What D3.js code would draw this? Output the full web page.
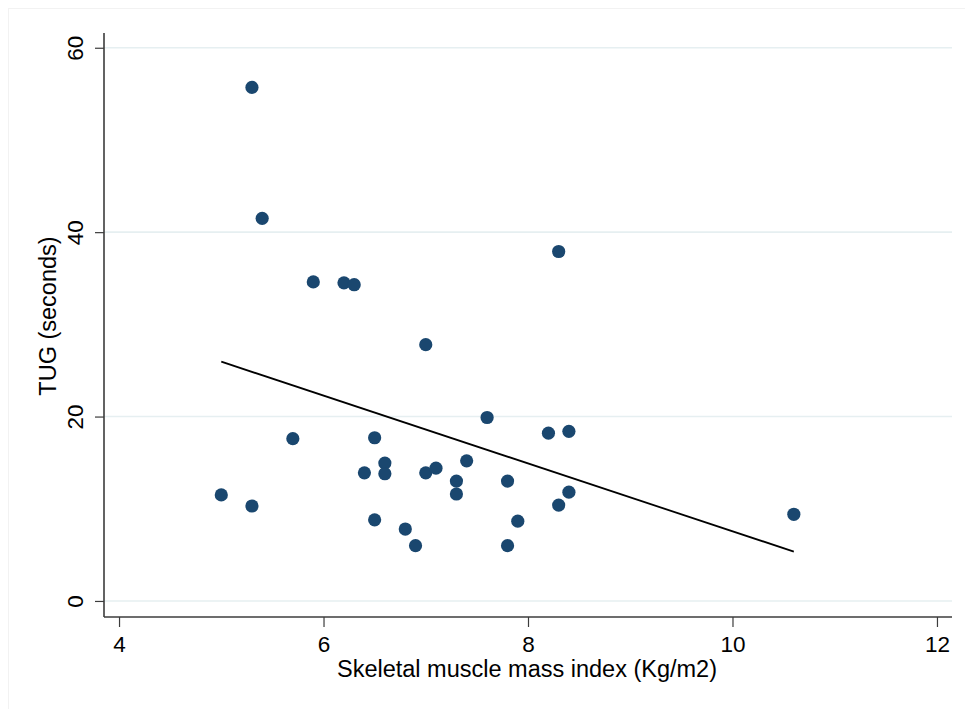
<!DOCTYPE html>
<html>
<head>
<meta charset="utf-8">
<script src="https://cdn.jsdelivr.net/npm/d3@7"></script>
<style>
    body { margin: 0; background: #fff; }
    svg text { font-family: "Liberation Sans", Arial, Helvetica, sans-serif; fill: #000; }
</style>
</head>
<body>
<div id="chart"></div>
<script>
// skeletal muscle mass index (x) vs TUG seconds (y)
const smmi = [5.3, 5.4, 5.9, 6.2, 6.3, 8.3, 7.0, 7.6, 8.2, 8.4, 5.7, 6.5, 6.6, 6.4, 6.6, 7.0,
              7.1, 7.4, 7.3, 7.3, 7.8, 8.4, 8.3, 5.0, 5.3, 6.5, 6.8, 6.9, 7.8, 7.9, 10.6];
const tug = [55.7, 41.5, 34.6, 34.5, 34.3, 37.9, 27.8, 19.9, 18.2, 18.4, 17.6, 17.7, 14.95, 13.9, 13.8, 13.9,
             14.4, 15.2, 13.0, 11.6, 13.0, 11.8, 10.4, 11.5, 10.3, 8.8, 7.8, 6.0, 6.0, 8.65, 9.4];
// fitted line end points
const fitX = [5.0, 10.6];
const fitY = [25.95, 5.35];
const xTicks = [4, 6, 8, 10, 12];
const yTicks = [0, 20, 40, 60];

const W = 965, H = 709;
const plot = { left: 104, right: 952, top: 33, bottom: 617 };

const svg = d3.select('#chart').append('svg')
    .attr('width', W)
    .attr('height', H);

// faint outer frame
svg.append('rect')
    .attr('x', 8.5).attr('y', 8.5)
    .attr('width', W).attr('height', H)
    .attr('fill', 'none')
    .attr('stroke', '#f2f2f2');

const x = d3.scaleLinear().domain([3.853, 12.147]).range([plot.left, plot.right]);
const y = d3.scaleLinear().domain([-1.74, 61.6]).range([plot.bottom, plot.top]);

// gridlines
svg.append('g')
    .selectAll('line')
    .data(yTicks)
    .enter().append('line')
    .attr('x1', plot.left).attr('x2', plot.right)
    .attr('y1', d => y(d)).attr('y2', d => y(d))
    .attr('stroke', '#e6eff1')
    .attr('stroke-width', 1.6);

// axes
const yAxis = svg.append('g')
    .attr('transform', `translate(${plot.left},0)`)
    .call(d3.axisLeft(y).tickValues(yTicks).tickSize(9).tickPadding(10));
yAxis.select('.domain').attr('d', `M0,${plot.top}V${plot.bottom}`);

const xAxis = svg.append('g')
    .attr('transform', `translate(0,${plot.bottom})`)
    .call(d3.axisBottom(x).tickValues(xTicks).tickSize(10).tickPadding(9));
xAxis.select('.domain').attr('d', `M${plot.left},0H${plot.right}`);

svg.selectAll('.domain').attr('stroke', '#3c3c3c').attr('stroke-width', 1.6);
svg.selectAll('.tick line').attr('stroke', '#3c3c3c').attr('stroke-width', 1.2);
svg.selectAll('.tick text').attr('font-size', 22.5).attr('fill', '#000');

yAxis.selectAll('.tick text')
    .attr('x', 0).attr('dy', 0)
    .attr('text-anchor', 'middle')
    .attr('transform', 'translate(-21,0) rotate(-90)');

// scatter
const pts = smmi.map((v, i) => ({ x: v, y: tug[i] }));
svg.append('g')
    .selectAll('circle')
    .data(pts)
    .enter().append('circle')
    .attr('cx', d => x(d.x))
    .attr('cy', d => y(d.y))
    .attr('r', 6.6)
    .attr('fill', '#1a476f');

// fitted line
svg.append('path')
    .datum(fitX.map((v, i) => [v, fitY[i]]))
    .attr('d', d3.line().x(d => x(d[0])).y(d => y(d[1])))
    .attr('fill', 'none')
    .attr('stroke', '#000')
    .attr('stroke-width', 1.8);

// titles
svg.append('text')
    .attr('x', 527)
    .attr('y', 677)
    .attr('text-anchor', 'middle')
    .attr('font-size', 23.5)
    .text('Skeletal muscle mass index (Kg/m2)');

svg.append('text')
    .attr('transform', 'translate(56,316) rotate(-90)')
    .attr('text-anchor', 'middle')
    .attr('font-size', 23.5)
    .text('TUG (seconds)');
</script>
</body>
</html>
